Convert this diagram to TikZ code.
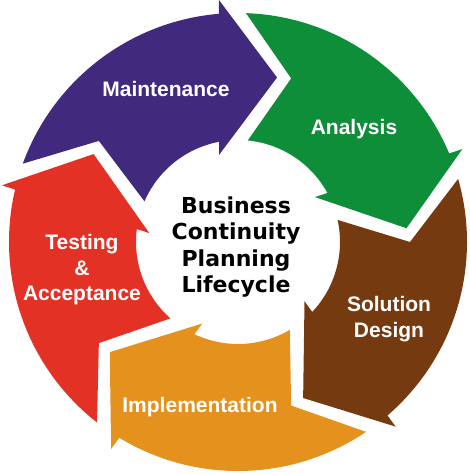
\documentclass[tikz,border=0pt]{standalone}
\usepackage{fontspec}
\setmainfont{Liberation Sans}
\newfontfamily\hubfont{DejaVu Sans}
\usetikzlibrary{positioning}

\definecolor{bcpPurple}{RGB}{65,41,126}
\definecolor{bcpGreen}{RGB}{15,142,58}
\definecolor{bcpBrown}{RGB}{118,58,17}
\definecolor{bcpOrange}{RGB}{229,145,29}
\definecolor{bcpRed}{RGB}{227,49,37}

\begin{document}
\begin{tikzpicture}[x=1pt,y=1pt,
  stage/.style={text=white,align=center,inner sep=0pt,
    font=\fontsize{21}{25.5}\selectfont\bfseries},
  hub/.style={text=black,align=center,inner sep=0pt,
    font=\hubfont\fontsize{22}{26.5}\selectfont\bfseries}]
  \useasboundingbox (-238,-232) rectangle (231,242);
  % the five arrows, one template turned by 72 degrees each
  \foreach \col [count=\i from 0] in {bcpPurple,bcpGreen,bcpBrown,bcpOrange,bcpRed}
    \fill[\col,rotate=-72*\i] (160:229) arc[start angle=160,end angle=94.76,radius=229]
      -- (-19,242) -- (39,164.5) -- (-19,87) -- (100.7:102)
      arc[start angle=100.7,end angle=156.5,radius=102] -- (144:172) -- cycle;
  \node[hub]   (hub)         at (-2,-5)    {Business\\Continuity\\Planning\\Lifecycle};
  \node[stage] (maintenance) at (-72,153)  {Maintenance};
  \node[stage] (analysis)    at (116,113)  {Analysis};
  \node[stage] (design)      at (151,-77)  {Solution\\Design};
  \node[stage] (implement)   at (-38,-165) {Implementation};
  \node[stage] (testing)     at (-156,-28) {Testing\\\&\\Acceptance};
\end{tikzpicture}
\end{document}
